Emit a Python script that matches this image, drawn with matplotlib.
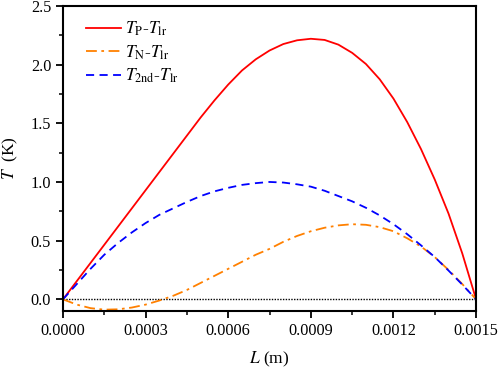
import numpy as np
import matplotlib
matplotlib.use("Agg")
import matplotlib.pyplot as plt
from matplotlib.ticker import MultipleLocator, FormatStrFormatter

plt.rcParams['font.family'] = ['Liberation Serif', 'DejaVu Serif']
plt.rcParams['mathtext.fontset'] = 'stix'
plt.rcParams['font.size'] = 11

# data
L = np.arange(31) * 0.00005
T_P = [0.0, 0.155, 0.31, 0.465, 0.62, 0.775, 0.93, 1.085, 1.24, 1.395, 1.55,
       1.695, 1.83, 1.95, 2.045, 2.12, 2.175, 2.207, 2.22, 2.21, 2.17,
       2.10, 2.005, 1.875, 1.71, 1.51, 1.28, 1.02, 0.73, 0.39, 0.0]
T_N = [0.0, -0.045, -0.075, -0.088, -0.085, -0.07, -0.045, -0.01, 0.03, 0.08, 0.14,
       0.20, 0.26, 0.32, 0.38, 0.43, 0.49, 0.54, 0.58, 0.61, 0.63,
       0.64, 0.635, 0.615, 0.58, 0.52, 0.45, 0.36, 0.25, 0.13, 0.0]
T_2nd = [0.0, 0.13, 0.26, 0.38, 0.48, 0.57, 0.65, 0.72, 0.775, 0.83, 0.88,
         0.92, 0.95, 0.975, 0.99, 1.0, 0.995, 0.98, 0.96, 0.925, 0.88,
         0.835, 0.78, 0.715, 0.64, 0.555, 0.46, 0.36, 0.245, 0.125, 0.0]

fig = plt.figure(figsize=(4.98, 3.69), dpi=100)
ax = fig.add_axes([0.1265, 0.157, 0.8295, 0.827])

ax.axhline(0, color='black', linestyle=(0, (1, 1)), linewidth=1.0, zorder=1)
ax.plot(L, T_P, color='#FF0000', linewidth=1.3, label=r'$T_{\rm P}$-$T_{\rm lr}$')
ax.plot(L, T_N, color='#FF8000', linewidth=1.3, linestyle=(0, (6, 2.5, 1.5, 2.5)),
        label=r'$T_{\rm N}$-$T_{\rm lr}$')
ax.plot(L, T_2nd, color='#0000FF', linewidth=1.3, linestyle=(0, (4.5, 3)),
        label=r'$T_{\rm 2nd}$-$T_{\rm lr}$')

ax.set_xlim(0, 0.0015)
ax.set_ylim(-0.1, 2.5)
ax.xaxis.set_major_locator(MultipleLocator(0.0003))
ax.xaxis.set_minor_locator(MultipleLocator(0.00015))
ax.yaxis.set_major_locator(MultipleLocator(0.5))
ax.yaxis.set_minor_locator(MultipleLocator(0.25))
ax.xaxis.set_major_formatter(FormatStrFormatter('%.4f'))
ax.yaxis.set_major_formatter(FormatStrFormatter('%.1f'))
ax.tick_params(which='major', direction='out', length=5, width=1.3, labelsize=11.7)
ax.tick_params(which='minor', direction='out', length=3, width=1.1)
for s in ax.spines.values():
    s.set_linewidth(1.5)

ax.set_xlabel(r'$L$ (m)', fontsize=12.5, labelpad=8)
ax.set_ylabel(r'$T$  (K)', fontsize=12.5, labelpad=8)

ax.legend(loc='upper left', frameon=False, fontsize=12.5, handlelength=2.0,
          handletextpad=0.25, borderaxespad=0.4, labelspacing=0.3,
          bbox_to_anchor=(0.022, 1.0))

fig.savefig('out.png', dpi=100)
